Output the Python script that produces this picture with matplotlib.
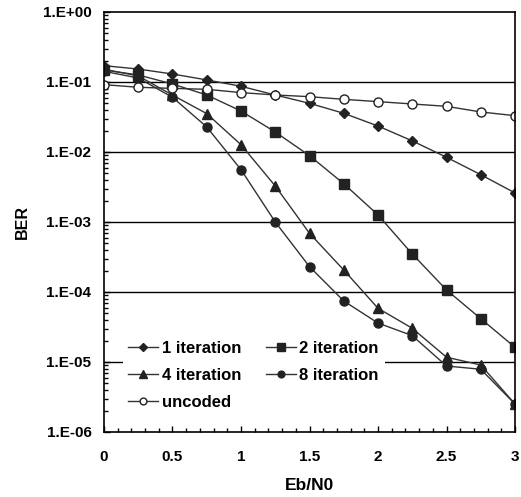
import numpy as np
import matplotlib.pyplot as plt
from matplotlib.ticker import FuncFormatter, MultipleLocator, LogLocator

## DATA
ebn0 = [0, 0.25, 0.5, 0.75, 1.0, 1.25, 1.5, 1.75, 2.0, 2.25, 2.5, 2.75, 3.0]

ber_1it = [0.171, 0.153, 0.130, 0.107, 0.0868, 0.0652, 0.0496, 0.0357, 0.0235,
           0.0144, 0.0084, 0.00474, 0.0026]
ber_2it = [0.148, 0.126, 0.0936, 0.0652, 0.0385, 0.0193, 0.00886, 0.00352,
           0.00126, 0.000349, 0.000107, 4.16e-5, 1.62e-5]
ber_4it = [0.152, 0.122, 0.065, 0.0353, 0.0127, 0.00327, 0.000689, 0.000206,
           5.85e-5, 3.03e-5, 1.17e-5, 9.06e-6, 2.51e-6]
ber_8it = [0.142, 0.114, 0.0604, 0.0228, 0.00559, 0.001, 0.00023, 7.44e-5,
           3.6e-5, 2.38e-5, 8.77e-6, 7.87e-6, 2.51e-6]
ber_unc = [0.0916, 0.084, 0.081, 0.0786, 0.0705, 0.0652, 0.0617, 0.0565,
           0.0524, 0.0485, 0.0449, 0.0373, 0.033]

labels = ['1 iteration', '2 iteration', '4 iteration', '8 iteration', 'uncoded']

plt.rcParams['font.family'] = ['Liberation Sans', 'DejaVu Sans']
plt.rcParams['font.weight'] = 'bold'

fig = plt.figure(figsize=(5.21, 4.97), dpi=100)
ax = fig.add_axes([0.1996, 0.1308, 0.7889, 0.8451])

lc = '#333333'
mc = '#222222'
h1, = ax.plot(ebn0, ber_1it, '-', marker='D', ms=5, color=lc, mfc=mc, mec=mc, lw=1, label=labels[0])
h2, = ax.plot(ebn0, ber_2it, '-', marker='s', ms=7, color=lc, mfc=mc, mec=mc, lw=1, label=labels[1])
h4, = ax.plot(ebn0, ber_4it, '-', marker='^', ms=7, color=lc, mfc=mc, mec=mc, lw=1, label=labels[2])
h8, = ax.plot(ebn0, ber_8it, '-', marker='o', ms=6.5, color=lc, mfc=mc, mec=mc, lw=1, label=labels[3])
hu, = ax.plot(ebn0, ber_unc, '-', marker='o', ms=6.5, color=lc, mfc='white', mec=mc, lw=1, mew=1, label=labels[4])

ax.set_yscale('log')
ax.set_ylim(1e-6, 1)
ax.set_xlim(0, 3)

# horizontal grid at each decade
for e in range(-5, 0):
    ax.axhline(10.0 ** e, color='black', lw=1, zorder=1)

ax.xaxis.set_major_locator(MultipleLocator(0.5))
ax.xaxis.set_minor_locator(MultipleLocator(0.1))
ax.yaxis.set_major_locator(LogLocator(base=10, numticks=10))
ax.yaxis.set_minor_locator(LogLocator(base=10, subs=np.arange(2, 10), numticks=20))
ax.yaxis.set_major_formatter(FuncFormatter(
    lambda v, p: '1.E+00' if v >= 1 else '1.E-%02d' % int(round(-np.log10(v)))))
ax.xaxis.set_major_formatter(FuncFormatter(lambda v, p: '%g' % v))

ax.tick_params(axis='both', which='both', direction='in', top=False, right=False, width=1)
ax.tick_params(axis='x', which='major', labelsize=11, pad=13)
ax.tick_params(axis='y', which='major', labelsize=11, pad=9)
ax.tick_params(axis='both', which='major', length=4)
ax.tick_params(axis='both', which='minor', length=3)
for lab in ax.get_xticklabels() + ax.get_yticklabels():
    lab.set_fontweight('bold')
for s in ax.spines.values():
    s.set_linewidth(1.2)

ax.set_xlabel('Eb/N0', fontsize=12.5, fontweight='bold', labelpad=10)
ax.set_ylabel('BER', fontsize=11.5, fontweight='bold', labelpad=9)

leg = ax.legend([h1, h4, hu, h2, h8], [labels[0], labels[2], labels[4], labels[1], labels[3]],
                ncol=2, loc='lower left', bbox_to_anchor=(0.025, 0.018),
                fontsize=12, handlelength=1.8, handletextpad=0.2, markerscale=0.75,
                columnspacing=1.5, labelspacing=0.72, borderpad=0.35,
                frameon=True, fancybox=False)
leg.get_frame().set_edgecolor('none')
leg.get_frame().set_facecolor('white')
leg.get_frame().set_alpha(1)
for t in leg.get_texts():
    t.set_fontweight('bold')

fig.savefig('out.png', dpi=100)
